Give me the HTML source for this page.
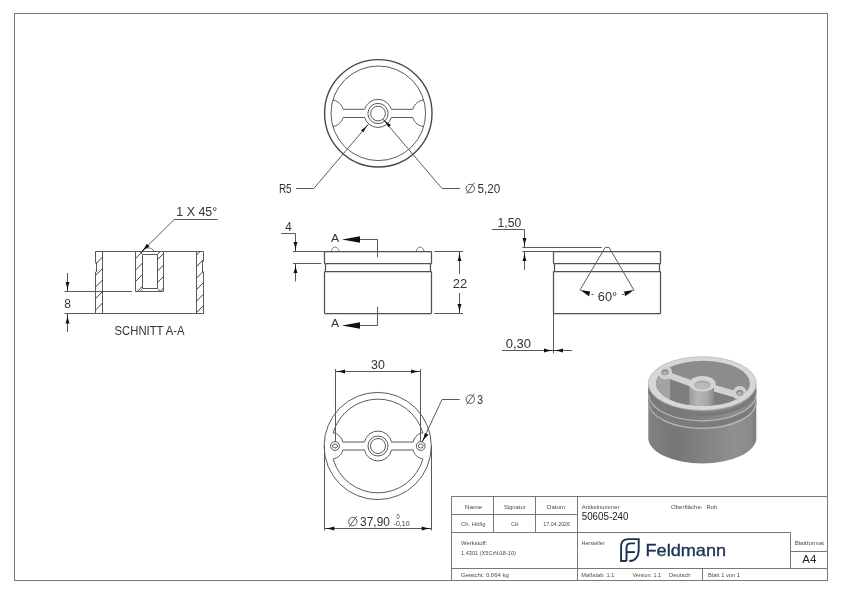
<!DOCTYPE html>
<html><head><meta charset="utf-8">
<style>
html,body{margin:0;padding:0;background:#fff;}
body{width:842px;height:595px;overflow:hidden;}
svg{display:block;will-change:transform;font-family:"Liberation Sans",sans-serif;}
.l{fill:none;stroke:#5a5a5a;stroke-width:1;}
.t{fill:none;stroke:#787878;stroke-width:1;}
.th{fill:none;stroke:#404040;stroke-width:1;}
.d{fill:#333;font-size:12px;}
.s{fill:#4a4a4a;font-size:6px;}
.ah{fill:#111;stroke:none;}
</style></head><body>
<svg width="842" height="595" viewBox="0 0 842 595">
<!-- frame -->
<rect x="14.5" y="13.5" width="813" height="567" class="t"/>


<!-- TOP VIEW -->
<g class="l">
<circle cx="378.3" cy="113.3" r="53.7" stroke-width="1.4" stroke="#484848"/>
<circle cx="378.3" cy="113.3" r="47.3"/>
<circle cx="378" cy="113.5" r="10.1"/>
<circle cx="378" cy="113.5" r="7.4"/>
<path d="M343.2 109.3H364.6A14 14 0 0 1 391.4 109.3H412.8"/>
<path d="M343.2 117.5H364.6A14 14 0 0 0 391.4 117.5H412.8"/>
<path d="M332.7 100.1C337 100.5 341.5 103.5 343.2 109.3"/>
<path d="M332.7 126.5C337 126.1 341.5 123.1 343.2 117.5"/>
<path d="M423.3 100.1C419 100.5 414.5 103.5 412.8 109.3"/>
<path d="M423.3 126.5C419 126.1 414.5 123.1 412.8 117.5"/>
<path d="M296 188.5H313.8L368.3 124.3"/>
<path d="M442 188.5H460M442 188.5L383 119.3"/>
</g>
<path class="ah" d="M368.5 124.0Q364.5 128.1 361.0 130.2L363.4 132.2Q365.0 128.5 368.5 124.0Z"/>
<path class="ah" d="M382.8 119.1Q387.2 123.1 390.8 125.0L388.6 127.2Q386.7 123.5 382.8 119.1Z"/>
<text class="d" x="278.9" y="193" textLength="12.8" lengthAdjust="spacingAndGlyphs">R5</text>
<g class="l"><circle cx="470.3" cy="188.5" r="4.2"/><path d="M466.5 193.8L474.3 182.6"/></g>
<text class="d" x="477.5" y="192.8" textLength="22.8" lengthAdjust="spacingAndGlyphs">5,20</text>


<!-- SECTION VIEW -->
<g class="l">
<path d="M95.5 251.5H203.5M95.5 313.5H203.5M95.5 251.5V262.5H96.5V272H95.5V313.5M203.5 251.5V261.5H202.5V272H203.5V313.5M102.5 251.5V313.5M196.5 251.5V313.5"/>
<path d="M135.5 251.5V291.5H163.5V251.5M142.5 254.5V288.5M157.5 254.5V288.5M142.5 254.5H157.5M142.5 288.5H157.5"/>
<path d="M139.8 251.5L142.5 254.5M160.3 251.5L157.5 254.5M139.8 291.5L142.5 288.5M160.3 291.5L157.5 288.5"/>
<path d="M64.5 291.5H132M64.5 313.5H95.5"/>
<path d="M67.5 273V291.5M67.5 314V332"/>
<path d="M142.6 251.5C143.5 247 152.5 246.5 153.8 251.5" stroke-width="0.8"/>
<path d="M141 252.3L174.2 219.5H217.5"/>
</g>
<path class="th" d="M95.6 252.5L96.6 251.5M95.6 264.0L102.6 257.0M95.6 275.5L102.6 268.5M95.6 287.0L102.6 280.0M95.6 298.5L102.6 291.5M95.6 310.0L102.6 303.0M196.4 255.2L200.1 251.5M196.4 266.7L203.2 259.9M196.4 278.2L203.2 271.4M196.4 289.7L203.2 282.9M196.4 301.2L203.2 294.4M196.4 312.7L203.2 305.9M135.5 258.6L142.5 251.6M135.5 270.1L142.5 263.1M135.5 281.6L142.5 274.6M137.1 291.5L142.5 286.1M157.5 259.6L163.5 253.6M157.5 271.1L163.5 265.1M157.5 282.6L163.5 276.6M160.1 291.5L163.5 288.1"/>
<path class="ah" d="M67.5 291.5Q67.1 285.8 65.5 282.0L69.5 282.0Q67.9 285.8 67.5 291.5Z"/>
<path class="ah" d="M67.5 314.0Q67.1 319.7 65.5 323.5L69.5 323.5Q67.9 319.7 67.5 314.0Z"/>
<path class="ah" d="M140.9 252.4Q145.0 247.8 146.8 243.8L149.6 246.6Q145.6 248.4 140.9 252.4Z"/>
<text class="d" x="64.2" y="307.9" textLength="6.7" lengthAdjust="spacingAndGlyphs">8</text>
<text class="d" x="176.3" y="215.8" textLength="40.9" lengthAdjust="spacingAndGlyphs">1 X 45°</text>
<text class="d" x="114.6" y="335.1" textLength="70" lengthAdjust="spacingAndGlyphs">SCHNITT A-A</text>


<!-- FRONT VIEW -->
<g class="l">
<path d="M324.5 251.5H431.5M324.5 263.5H431.5M324.5 271.5H431.5M324.5 313.5H431.5" stroke-width="1.25" stroke="#505050"/>
<path d="M324.5 251.5V263.5M325.5 263.5V271.5M324.5 271.5V313.5M431.5 251.5V263.5M430.5 263.5V271.5M431.5 271.5V313.5" stroke-width="1.25" stroke="#505050"/>
<path d="M331.2 251.5C332.5 245.5 337.8 245.5 339.2 251.5M416.2 251.5C417.5 245.5 422.8 245.5 424.2 251.5" stroke-width="0.8"/>
<path d="M293 251.5H324.5M293 263.5H321.2"/>
<path d="M281.2 233.5H295.5V251.5M295.5 263.5V281.5"/>
<path d="M359.9 239.5H377.5V257.2M377.5 306.9V325.5H359.9"/>
<path d="M434.3 251.5H463M434.3 313.5H463M459.5 251.5V274M459.5 293V313.5"/>
</g>
<path class="ah" d="M295.5 251.5Q295.1 245.8 293.5 242.0L297.5 242.0Q295.9 245.8 295.5 251.5Z"/>
<path class="ah" d="M295.5 263.5Q295.1 269.2 293.5 273.0L297.5 273.0Q295.9 269.2 295.5 263.5Z"/>
<path class="ah" d="M342 239.5L360 236.2L360 242.7Z"/>
<path class="ah" d="M342 325.5L360 322.2L360 328.7Z"/>
<path class="ah" d="M459.5 251.5Q459.1 257.2 457.5 261.0L461.5 261.0Q459.9 257.2 459.5 251.5Z"/>
<path class="ah" d="M459.5 313.5Q459.1 307.8 457.5 304.0L461.5 304.0Q459.9 307.8 459.5 313.5Z"/>
<text class="d" x="285.3" y="230.9" textLength="6.5" lengthAdjust="spacingAndGlyphs">4</text>
<text class="d" x="331" y="241.5" textLength="8.2" lengthAdjust="spacingAndGlyphs" style="font-size:10.5px">A</text>
<text class="d" x="331.1" y="327.2" textLength="8.2" lengthAdjust="spacingAndGlyphs" style="font-size:10.5px">A</text>
<text class="d" x="452.8" y="288" textLength="14.4" lengthAdjust="spacingAndGlyphs">22</text>

<!-- SIDE VIEW -->
<g class="l">
<path d="M553.5 251.5H660.5M553.5 263.5H660.5M553.5 271.5H660.5M553.5 313.5H660.5" stroke-width="1.25" stroke="#505050"/>
<path d="M553.5 251.5V263.5M554.5 263.5V271.5M553.5 271.5V313.5M660.5 251.5V263.5M659.5 263.5V271.5M660.5 271.5V313.5" stroke-width="1.25" stroke="#505050"/>
<path d="M522.4 247.5H601.8M579.7 290.5L605.2 247.4H609.1L634.1 290.5"/>
<path d="M522.4 251.5H553.5"/>
<path d="M491.8 229.5H524.5V247.5M524.5 251.5V270"/>
<path d="M553.5 313.5V353.3M501.9 350.5H572"/>
<path d="M591.5 294.5H593.5M622 294.5H624"/>
</g>
<path class="ah" d="M524.5 247.5Q524.1 241.8 522.5 238.0L526.5 238.0Q524.9 241.8 524.5 247.5Z"/>
<path class="ah" d="M524.5 251.5Q524.1 257.2 522.5 261.0L526.5 261.0Q524.9 257.2 524.5 251.5Z"/>
<path class="ah" d="M553.5 350.5Q547.8 350.1 544.0 348.5L544.0 352.5Q547.8 350.9 553.5 350.5Z"/>
<path class="ah" d="M553.5 350.5Q559.2 350.1 563.0 348.5L563.0 352.5Q559.2 350.9 553.5 350.5Z"/>
<path class="ah" d="M580.2 290.1L590.1 291.6L589.1 296.2Z"/>
<path class="ah" d="M634 290.1L624.1 291.6L625.1 296.2Z"/>
<text class="d" x="497.6" y="227.1" textLength="23.6" lengthAdjust="spacingAndGlyphs">1,50</text>
<text class="d" x="597.8" y="300.8" textLength="19.4" lengthAdjust="spacingAndGlyphs">60°</text>
<text class="d" x="505.7" y="347.9" textLength="25.4" lengthAdjust="spacingAndGlyphs">0,30</text>


<!-- BOTTOM VIEW -->
<g class="l">
<circle cx="377.7" cy="446" r="53.6"/>
<path d="M333.1 433A46.7 46.7 0 0 1 422.9 433M333.1 459A46.7 46.7 0 0 0 422.9 459"/>
<path d="M333.1 433H335.2C338.5 434.5 342 437.5 342.8 442H364.5A13.8 13.8 0 0 1 391.5 442H413.2C414 437.5 417.5 434.5 420.8 433H422.9"/>
<path d="M333.1 459C338.5 457.5 342 454.5 342.8 450H364.5A13.8 13.8 0 0 0 391.5 450H413.2C414 454.5 417.5 457.5 422.9 459"/>
<circle cx="378" cy="446" r="10"/>
<circle cx="378" cy="446" r="7.5"/>
<circle cx="335" cy="446" r="4.4"/>
<ellipse cx="335" cy="446" rx="2.5" ry="2"/>
<circle cx="420.7" cy="446" r="4.4"/>
<ellipse cx="420.7" cy="446" rx="2.5" ry="2"/>
<path d="M335.5 369V441.6M420.5 369V441.6M335.5 371.5H420.5"/>
<path d="M324.5 446V530.5M431.5 446V530.5M324.5 528.5H431.5"/>
<path d="M422 442.3L442 399.5H459.7"/>
</g>
<path class="ah" d="M335.5 371.5Q341.2 371.1 345.0 369.5L345.0 373.5Q341.2 371.9 335.5 371.5Z"/>
<path class="ah" d="M420.5 371.5Q414.8 371.1 411.0 369.5L411.0 373.5Q414.8 371.9 420.5 371.5Z"/>
<path class="ah" d="M324.5 528.5Q330.4 528.1 334.3 526.5L334.3 530.5Q330.4 528.9 324.5 528.5Z"/>
<path class="ah" d="M431.5 528.5Q425.6 528.1 421.7 526.5L421.7 530.5Q425.6 528.9 431.5 528.5Z"/>
<path class="ah" d="M422.0 442.3Q424.4 437.1 424.8 433.0L428.5 434.8Q425.2 437.4 422.0 442.3Z"/>
<text class="d" x="371" y="368.8" textLength="13.8" lengthAdjust="spacingAndGlyphs">30</text>
<g class="l"><circle cx="470.3" cy="399.2" r="4.2"/><path d="M466.5 404.7L474.3 393.7"/></g>
<text class="d" x="477.2" y="403.6" textLength="5.8" lengthAdjust="spacingAndGlyphs">3</text>
<g class="l"><circle cx="352.8" cy="521.6" r="4.2"/><path d="M349 527L356.7 516.2"/></g>
<text class="d" x="360.1" y="525.8" textLength="29.8" lengthAdjust="spacingAndGlyphs">37,90</text>
<text class="d" x="396.4" y="518.6" style="font-size:6.8px" textLength="3.2" lengthAdjust="spacingAndGlyphs">0</text>
<text class="d" x="393.7" y="525.8" style="font-size:6.8px" textLength="15.8" lengthAdjust="spacingAndGlyphs">-0,10</text>


<!-- 3D VIEW -->
<defs>
<linearGradient id="gb" x1="0" x2="1" y1="0" y2="0">
<stop offset="0" stop-color="#828282"/><stop offset="0.06" stop-color="#7f7f7f"/><stop offset="0.25" stop-color="#767676"/><stop offset="0.5" stop-color="#828282"/><stop offset="0.8" stop-color="#8f8f8f"/><stop offset="0.95" stop-color="#8b8b8b"/><stop offset="1" stop-color="#7c7c7c"/>
</linearGradient>
<linearGradient id="gh" x1="0" x2="1" y1="0" y2="0">
<stop offset="0" stop-color="#9c9c9c"/><stop offset="0.35" stop-color="#b6b6b6"/><stop offset="0.75" stop-color="#a9a9a9"/><stop offset="1" stop-color="#8e8e8e"/>
</linearGradient>
<clipPath id="bodyc"><path d="M648.3 383.5V438A54 25.5 0 0 0 756.3 438V383.5Z"/></clipPath>
<clipPath id="cav"><ellipse cx="703" cy="383.4" rx="47" ry="22.7"/></clipPath>
</defs>
<path d="M648.3 383.5V438A54 25.5 0 0 0 756.3 438V383.5Z" fill="url(#gb)"/>
<g clip-path="url(#bodyc)">
<path d="M648.5 388A53.8 26.6 0 0 0 756.1 388" fill="none" stroke="#7a7a7a" stroke-width="4"/>
<path d="M648.5 397.8A53.8 26.6 0 0 0 756.1 397.8" fill="none" stroke="#7b7b7b" stroke-width="5"/>
<path d="M648.5 394.2A53.8 26.6 0 0 0 756.1 394.2" fill="none" stroke="#b8b8b8" stroke-width="1.2"/>
<path d="M648.5 401.8A53.8 26.6 0 0 0 756.1 401.8" fill="none" stroke="#b8b8b8" stroke-width="1.2"/>
</g>
<ellipse cx="702.3" cy="383.5" rx="54" ry="26.8" fill="#d7d7d7" stroke="#b8b8b8" stroke-width="0.8"/>
<g clip-path="url(#cav)">
<rect x="650" y="355" width="110" height="60" fill="#8c8c8c"/>
<polygon points="650,376 670,378 689.3,385 689.3,410 650,410" fill="#a3a3a3"/>
<polygon points="670,379 690,386.3 690,410 670,410" fill="#7e7e7e"/>
<polygon points="714,391.6 734.8,397.6 734.8,410 714,410" fill="#7e7e7e"/>
<polygon points="734.8,396.8 760,400 760,410 734.8,410" fill="#a4a4a4"/>
<rect x="689.3" y="383.7" width="23.7" height="30" fill="url(#gh)"/>
<polygon points="655,368.8 670.6,372.7 690,379.6 690,386.3 670,379 655,374" fill="#d2d2d2"/>
<polygon points="714,384.8 736,391 752,394.2 752,401.3 734.8,397.6 714,391.6" fill="#d2d2d2"/>
<circle cx="665" cy="372.5" r="7" fill="#d0d0d0"/>
<circle cx="739.8" cy="393" r="7" fill="#d0d0d0"/>
</g>
<ellipse cx="665" cy="372.3" rx="3.6" ry="3" fill="#8e8e8e"/>
<ellipse cx="665" cy="373" rx="2.2" ry="1.8" fill="#b4b4b4"/>
<ellipse cx="739.8" cy="392.8" rx="3.6" ry="3" fill="#8e8e8e"/>
<ellipse cx="739.8" cy="393.5" rx="2.2" ry="1.8" fill="#b4b4b4"/>
<ellipse cx="702.4" cy="383.7" rx="13.3" ry="7.8" fill="#d4d4d4"/>
<ellipse cx="702.4" cy="384.8" rx="8.2" ry="4.4" fill="#a8a8a8"/>
<ellipse cx="702.4" cy="385.7" rx="6.8" ry="3.3" fill="#bababa"/>
<!-- TITLE BLOCK -->
<g class="t">
<path d="M451.5 580.5V496.5H827.5"/>
<path d="M451.5 514.5H577.5M451.5 532.5H790.5M451.5 568.5H827.5"/>
<path d="M493.5 496.5V532.5M535.5 496.5V532.5M577.5 496.5V580.5"/>
<path d="M790.5 532.5V568.5M790.5 551.5H827.5M702.5 568.5V580.5"/>
</g>

<g class="s">
<text x="473.5" y="508.9" text-anchor="middle" textLength="17.4" lengthAdjust="spacingAndGlyphs">Name</text>
<text x="514.8" y="508.9" text-anchor="middle" textLength="21.7" lengthAdjust="spacingAndGlyphs">Signatur</text>
<text x="556" y="508.9" text-anchor="middle" textLength="18" lengthAdjust="spacingAndGlyphs">Datum</text>
<text x="473.2" y="526" text-anchor="middle" textLength="24.4" lengthAdjust="spacingAndGlyphs">Ch. Höfig</text>
<text x="514.8" y="526" text-anchor="middle" textLength="7.5" lengthAdjust="spacingAndGlyphs">CH</text>
<text x="556.7" y="526" text-anchor="middle" textLength="26.7" lengthAdjust="spacingAndGlyphs">17.04.2026</text>
<text x="581.7" y="509.2" textLength="37.7" lengthAdjust="spacingAndGlyphs">Artikelnummer</text>
<text x="670.9" y="509.2" textLength="31.7" lengthAdjust="spacingAndGlyphs">Oberfläche:</text>
<text x="706.6" y="509.2" textLength="10.7" lengthAdjust="spacingAndGlyphs">Roh</text>
<text x="461" y="545" textLength="26.4" lengthAdjust="spacingAndGlyphs">Werkstoff:</text>
<text x="461" y="555.4" textLength="54.9" lengthAdjust="spacingAndGlyphs">1.4301 (X5CrNi18-10)</text>
<text x="461" y="577" textLength="47.8" lengthAdjust="spacingAndGlyphs">Gewicht: 0.064 kg</text>
<text x="581.5" y="545" textLength="23" lengthAdjust="spacingAndGlyphs">Hersteller</text>
<text x="581.3" y="577" textLength="33.1" lengthAdjust="spacingAndGlyphs">Maßstab: 1:1</text>
<text x="632.4" y="577" textLength="28.7" lengthAdjust="spacingAndGlyphs">Version: 1.1</text>
<text x="669" y="577" textLength="21.6" lengthAdjust="spacingAndGlyphs">Deutsch</text>
<text x="708.1" y="577" textLength="31.8" lengthAdjust="spacingAndGlyphs">Blatt 1 von 1</text>
<text x="809.3" y="544.7" text-anchor="middle" textLength="29.3" lengthAdjust="spacingAndGlyphs">Blattformat</text>
</g>
<text x="581.7" y="520.2" style="font-size:10.4px;fill:#222" textLength="46.8" lengthAdjust="spacingAndGlyphs">50605-240</text>
<text x="809.3" y="562.7" text-anchor="middle" style="font-size:10px;fill:#222" textLength="14" lengthAdjust="spacingAndGlyphs">A4</text>
<!-- LOGO -->
<g fill="none" stroke="#1a3152" stroke-width="1.9" stroke-linejoin="miter">
<path d="M626.5 561H621.1V546.5C621.1 541.8 623.8 539.1 628.5 539.1H638.7V549.5C638.7 557 634.8 561 629.3 561"/>
<path d="M626.5 561V547.8C626.5 545 628 543.4 631 543.4H635"/>
<path d="M626.5 552.1H635"/>
</g>
<text x="645.5" y="556.4" style="font-size:17px;fill:#1a3152;stroke:#1a3152;stroke-width:0.35" textLength="80.6" lengthAdjust="spacingAndGlyphs">Feldmann</text>

</svg>
</body></html>
